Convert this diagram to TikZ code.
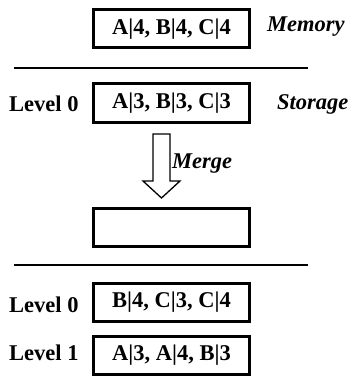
\documentclass[tikz,border=0pt]{standalone}
\usepackage{fontspec}
\setmainfont{Liberation Serif}
\begin{document}
\begin{tikzpicture}[x=1pt,y=-1pt,
  box/.style={draw=black,line width=3pt,minimum width=156pt,minimum height=38pt,inner sep=0pt,font=\fontsize{22.5}{26}\selectfont\bfseries},
  lbl/.style={font=\fontsize{22.5}{26}\selectfont\bfseries,inner sep=0pt},
  note/.style={font=\fontsize{22.5}{26}\selectfont\bfseries\itshape,inner sep=0pt},
  sep/.style={line width=2pt}]
\useasboundingbox (0,0) rectangle (352,377);
\node[box] (mem) at (171.5,29) {A|4, B|4, C|4};
\node[note,anchor=west] (memt) at (267,27) {Memory};
\coordinate (l1a) at (14,68);
\coordinate (l1b) at (308,68);
\draw[sep] (l1a) -- (l1b);
\node[box] (s0) at (171.5,103) {A|3, B|3, C|3};
\node[lbl,anchor=west] (s0l) at (9,104) {Level 0};
\node[note,anchor=west] (stt) at (277,104) {Storage};
\draw[line width=1.3pt,fill=white] (153,134) -- (170,134) -- (170,181) -- (180,181) -- (161.5,198) -- (143,181) -- (153,181) -- cycle;
\node[note,anchor=west] (merge) at (172,164) {Merge};
\node[box] (mid) at (171.5,227) {};
\coordinate (l2a) at (14,265);
\coordinate (l2b) at (308,265);
\draw[sep] (l2a) -- (l2b);
\node[box] (n0) at (171.5,302.5) {B|4, C|3, C|4};
\node[lbl,anchor=west] (n0l) at (9,305) {Level 0};
\node[box] (n1) at (171.5,355) {A|3, A|4, B|3};
\node[lbl,anchor=west] (n1l) at (9,353) {Level 1};
\end{tikzpicture}
\end{document}
